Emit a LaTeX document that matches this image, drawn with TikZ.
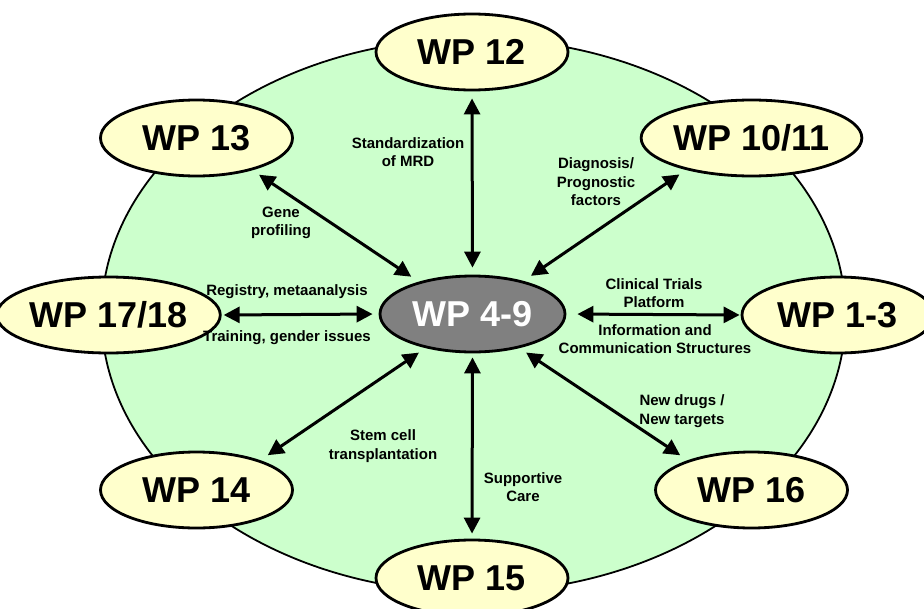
\documentclass[tikz,border=0pt]{standalone}
\usepackage{fontspec}
\setmainfont{Liberation Sans}
\usetikzlibrary{shapes.geometric,arrows.meta}
\definecolor{mint}{HTML}{CCFFCC}
\definecolor{cream}{HTML}{FFFFCC}
\definecolor{hubgray}{HTML}{808080}
\begin{document}
\begin{tikzpicture}[x=1pt,y=-1pt,
  wp/.style={ellipse, draw=black, line width=2.8pt, fill=cream,
    minimum width=192pt, minimum height=76pt, inner sep=0pt,
    font=\fontsize{36}{36}\selectfont\bfseries},
  hub/.style={wp, fill=hubgray, text=white, minimum width=185pt},
  link/.style={line width=3pt,
    {Triangle[length=16pt,width=16pt]}-{Triangle[length=16pt,width=16pt]}},
  tag/.style={font=\fontsize{15}{18.5}\selectfont\bfseries, align=center, inner sep=0pt}
]
\useasboundingbox (0,0) rectangle (924,608);

% background field
\node[ellipse, draw=black, line width=1.8pt, fill=mint,
      minimum width=744pt, minimum height=554pt] (field) at (473.5,315.5) {};

% work packages
\node[hub] (c) at (472.5,314) {WP 4-9};
\node[wp] (wp12) at (472,52) {WP 12};
\node[wp] (wp13) at (196.5,138) {WP 13};
\node[wp] (wp1011) at (751.5,138) {WP 10/11};
\node[wp] (wp1718) at (108.5,315) {WP 17/18};
\node[wp] (wp1to3) at (838,315) {WP 1-3};
\node[wp] (wp14) at (196.5,490) {WP 14};
\node[wp] (wp15) at (472,578) {WP 15};
\node[wp] (wp16) at (751.5,490) {WP 16};

% links to the hub
\draw[link, shorten <=7pt, shorten >=7pt] (wp12.south) -- (c.north);
\draw[link, shorten <=8pt, shorten >=9pt] (wp13.-30) -- (c.149);
\draw[link, shorten <=8pt, shorten >=9pt] (wp1011.206) -- (c.33);
\draw[link, shorten <=2pt, shorten >=6pt] (wp1718.east) -- (c.west);
\draw[link, shorten <=11pt, shorten >=1pt] (c.east) -- (wp1to3.west);
\draw[link, shorten <=9pt, shorten >=8pt] (wp14.25) -- (c.216);
\draw[link, shorten <=4pt, shorten >=5pt] (c.south) -- (wp15.north);
\draw[link, shorten <=8pt, shorten >=9pt] (c.-36) -- (wp16.155);

% link labels
\node[tag] (t12) at (408,152) {Standardization\\of MRD};
\node[tag] (t1011) at (596,182) {Diagnosis/\\Prognostic\\factors};
\node[tag] (t13) at (281,223) {Gene\\profiling};
\node[tag] (t1718a) at (287,292) {Registry, metaanalysis};
\node[tag] (t1718b) at (287,338) {Training, gender issues};
\node[tag] (t1to3a) at (654,293) {Clinical Trials\\Platform};
\node[tag] (t1to3b) at (655,339) {Information and\\Communication Structures};
\node[tag] (t16) at (682,411) {New drugs /\\New targets};
\node[tag] (t14) at (383,446) {Stem cell\\transplantation};
\node[tag] (t15) at (523,487) {Supportive\\Care};
\end{tikzpicture}
\end{document}
